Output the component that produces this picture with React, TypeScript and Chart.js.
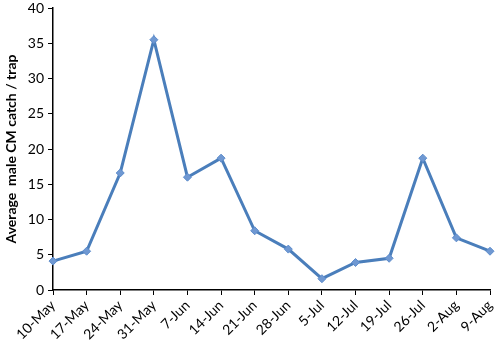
import React, { useEffect, useRef } from "react";
import { Chart, registerables } from "chart.js";

Chart.register(...registerables);

const categories = ["10-May", "17-May", "24-May", "31-May", "7-Jun", "14-Jun", "21-Jun", "28-Jun", "5-Jul", "12-Jul", "19-Jul", "26-Jul", "2-Aug", "9-Aug"];
const catchValues = [4.1, 5.5, 16.6, 35.5, 16.0, 18.7, 8.4, 5.8, 1.6, 3.9, 4.5, 18.7, 7.4, 5.5];
const yTitle = "Average  male CM catch / trap";

export default function App() {
  const ref = useRef<HTMLCanvasElement | null>(null);
  useEffect(() => {
    document.body.style.margin = "0";
    if (!ref.current) return;
    const font = "Lato, 'Liberation Sans', sans-serif";
    const chart = new Chart(ref.current, {
      type: "line",
      data: {
        labels: categories,
        datasets: [
          {
            data: catchValues,
            borderColor: "#4a7ebb",
            borderWidth: 3,
            backgroundColor: "#6f98d2",
            pointStyle: "rectRot",
            pointRadius: 4,
            pointBorderColor: "#5d8ccb",
            pointBorderWidth: 1,
            tension: 0,
          },
        ],
      },
      options: {
        animation: false,
        responsive: false,
        layout: { padding: { top: 8, right: 10, left: 3, bottom: 0 } },
        plugins: { legend: { display: false }, tooltip: { enabled: false } },
        scales: {
          x: {
            offset: false,
            grid: { display: true, drawOnChartArea: false, color: "#000", tickLength: 5 },
            border: { display: true, color: "#000", width: 1.5 },
            ticks: { color: "#000", font: { family: font, size: 14 }, minRotation: 45, maxRotation: 45, autoSkip: false, padding: 2 },
            afterFit: (s: any) => { s.height = 52; s.paddingLeft = 0; s.paddingRight = 0; },
          },
          y: {
            min: 0,
            max: 40,
            grid: { display: true, drawOnChartArea: false, color: "#000", tickLength: 5 },
            border: { display: true, color: "#000", width: 1.5 },
            ticks: { stepSize: 5, color: "#000", font: { family: font, size: 14 }, padding: 4 },
            title: { display: true, text: yTitle, color: "#000", font: { family: font, size: 14, weight: "bold" }, padding: { top: 0, bottom: 2 } },
            afterFit: (s: any) => { s.width = 50; s.paddingTop = 0; s.paddingBottom = 0; },
          },
        },
      },
    });
    return () => chart.destroy();
  }, []);
  return (
    <div style={{ width: 500, height: 342, background: "#fff" }}>
      <canvas ref={ref} width={500} height={342} />
    </div>
  );
}
